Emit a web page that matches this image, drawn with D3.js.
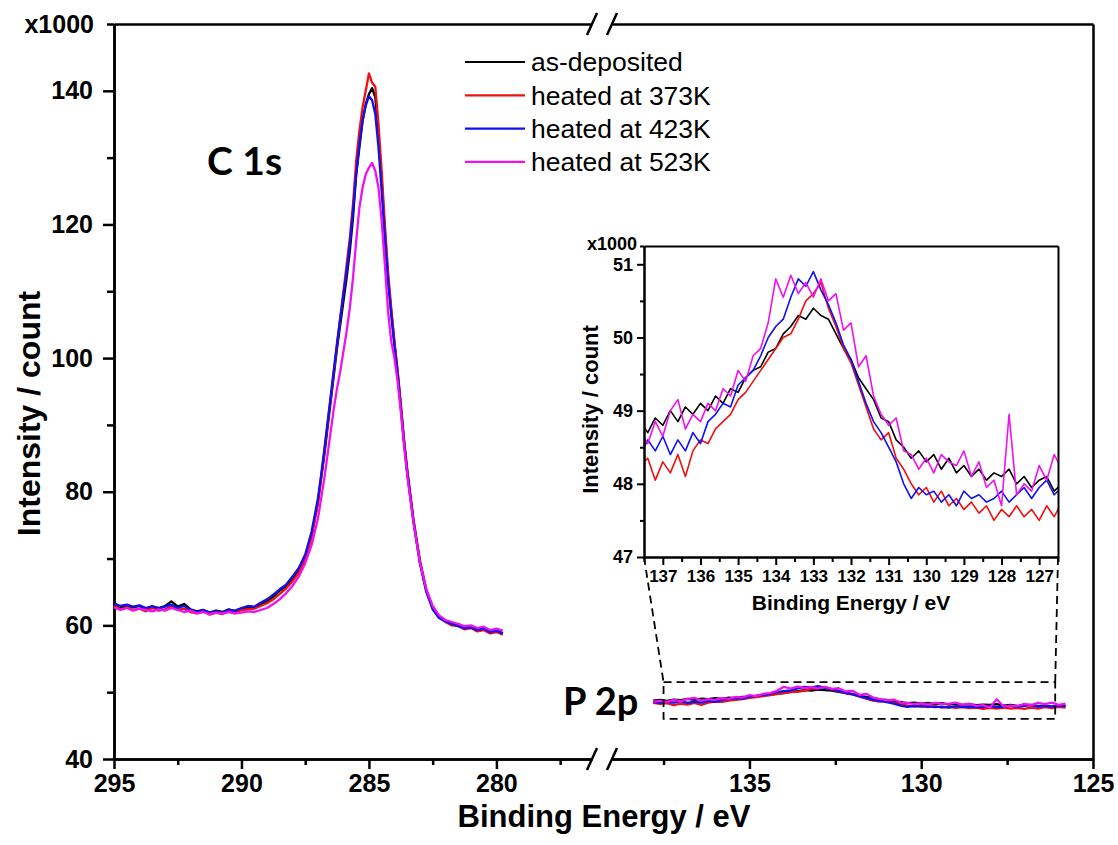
<!DOCTYPE html>
<html>
<head>
<meta charset="utf-8">
<script src="https://cdn.jsdelivr.net/npm/d3@7"></script>
<style>
    body { margin: 0; background: #fff; }
    svg text { font-family: "Liberation Sans", Arial, sans-serif; fill: #000; }
</style>
</head>
<body>
<svg id="chart" width="1118" height="845"></svg>
<script>
// legend / series
const seriesNames = ['as-deposited', 'heated at 373K', 'heated at 423K', 'heated at 523K']
const seriesColours = ['#000000', '#f01010', '#1010f0', '#f010f0']

// C 1s region (x1000 counts)
const energyC = [
    295.0, 294.75, 294.5, 294.25, 294.0, 293.75, 293.5, 293.25, 293.0, 292.75, 292.5,
    292.25, 292.0, 291.75, 291.5, 291.25, 291.0, 290.75, 290.5, 290.25, 290.0, 289.75,
    289.5, 289.25, 289.0, 288.75, 288.5, 288.25, 288.0, 287.75, 287.5, 287.25, 287.0,
    286.875, 286.75, 286.625, 286.5, 286.375, 286.25, 286.125, 286.0, 285.875, 285.75,
    285.625, 285.5, 285.375, 285.25, 285.125, 285.0, 284.875, 284.75, 284.625, 284.5,
    284.375, 284.25, 284.125, 284.0, 283.875, 283.75, 283.625, 283.5,
    283.25, 283.0, 282.75, 282.5, 282.25, 282.0, 281.75, 281.5, 281.25, 281.0, 280.75,
    280.5, 280.25, 280.0, 279.75]
const c1sAsDep = [
    63.1, 62.6, 63.0, 62.7, 62.9, 62.5, 62.8, 62.6, 62.9, 63.6, 62.8, 63.2, 62.4, 62.1, 62.3,
    61.9, 62.2, 62.0, 62.4, 62.1, 62.5, 62.7, 62.6, 63.2, 63.6, 64.3, 65.2, 65.8, 67.0, 68.2,
    70.0, 73.5, 78.5,
    82, 85.5, 89.5, 93.5, 97.5, 101.5, 105, 108.5, 112, 116, 121, 127.5, 131.5, 135.5, 138,
    139.5, 140.4, 139.0, 133.5, 126.5, 119, 112, 107, 102.3, 98, 93, 87.5, 83,
    75.5, 69.5, 65.2, 62.6, 61.3, 60.7, 60.3, 60.2, 59.7, 59.9, 59.4, 59.6, 59.1, 59.3, 58.8]
const c1s373 = [
    62.9, 62.4, 62.7, 62.3, 62.5, 62.1, 62.6, 62.2, 62.4, 62.8, 62.3, 62.5, 62.0, 61.8, 62.1,
    61.6, 61.9, 61.7, 62.1, 61.8, 62.3, 62.4, 62.5, 62.9, 63.3, 63.9, 64.7, 65.5, 66.6, 67.9,
    69.8, 73.2, 78.2,
    82, 86, 90, 94, 98, 102, 106, 110, 114, 118, 123, 129.5, 134, 137.5, 140,
    142.6, 141.2, 140.6, 135, 128, 120, 113, 107.5, 102.5, 98, 93, 88, 83.5,
    75.8, 69.8, 65.4, 62.7, 61.2, 60.5, 60.0, 59.9, 59.4, 59.6, 59.1, 59.3, 58.8, 59.0, 58.6]
const c1s423 = [
    63.3, 62.9, 63.1, 62.8, 63.0, 62.6, 62.9, 62.5, 62.8, 63.1, 62.6, 62.9, 62.3, 62.0, 62.3,
    61.9, 62.1, 61.9, 62.3, 62.2, 62.6, 62.9, 62.8, 63.4, 63.9, 64.6, 65.4, 66.1, 67.3, 68.6,
    70.6, 74.0, 79.0,
    82.5, 86.3, 90.3, 94.3, 98.3, 102.3, 106, 109.5, 113, 117, 122, 127.5, 132, 135.5, 137.8,
    139.2, 138.6, 136.5, 131.5, 125, 118, 111.5, 106.5, 101.8, 97.5, 92.5, 87.5, 83,
    75.5, 69.3, 65.0, 62.4, 61.1, 60.6, 60.2, 59.9, 59.6, 59.7, 59.3, 59.5, 59.0, 59.2, 58.8]
const c1s523 = [
    62.7, 62.3, 62.6, 62.2, 62.5, 62.3, 62.1, 62.4, 62.2, 62.6, 62.3, 62.0, 62.2, 61.8, 62.0,
    61.7, 61.9, 61.8, 62.0, 61.8, 61.9, 62.1, 62.0, 62.3, 62.6, 63.2, 63.9, 64.8, 65.9, 67.3,
    69.3, 72.0, 76.0,
    79, 82, 85.5, 89, 92.5, 95.5, 98, 101, 104, 107.5, 112, 117.5, 122.5, 125.5, 127.5,
    128.5, 129.2, 128, 125.5, 120.5, 114, 107, 102.5, 100, 96.5, 92, 87, 82.5,
    75.3, 69.4, 65.4, 62.9, 61.5, 60.8, 60.5, 60.2, 59.9, 60.0, 59.6, 59.8, 59.3, 59.5, 59.2]

// P 2p region (x1000 counts)
const energyP = [
    137.8, 137.6, 137.4, 137.2, 137.0, 136.8, 136.6, 136.4, 136.2, 136.0, 135.8, 135.6,
    135.4, 135.2, 135.0, 134.8, 134.6, 134.4, 134.2, 134.0, 133.8, 133.6, 133.4, 133.2,
    133.0, 132.8, 132.6, 132.4, 132.2, 132.0, 131.8, 131.6, 131.4, 131.2, 131.0, 130.8,
    130.6, 130.4, 130.2, 130.0, 129.8, 129.6, 129.4, 129.2, 129.0, 128.8, 128.6, 128.4,
    128.2, 128.0, 127.8, 127.6, 127.4, 127.2, 127.0, 126.8, 126.6, 126.4, 126.2, 126.0, 125.8]
const p2pAsDep = [
    48.75, 48.85, 48.70, 48.90, 48.80, 49.00, 48.85, 49.05, 48.95, 49.10, 49.00, 49.20,
    49.10, 49.30, 49.25, 49.45, 49.55, 49.60, 49.80, 49.85, 50.05, 50.15, 50.30, 50.25,
    50.40, 50.30, 50.25, 50.05, 49.85, 49.70, 49.45, 49.30, 49.15, 48.90, 48.85, 48.60,
    48.50, 48.35, 48.45, 48.30, 48.40, 48.20, 48.35, 48.15, 48.25, 48.10, 48.20, 48.05,
    48.15, 48.10, 48.20, 48.00, 48.10, 47.95, 48.05, 48.10, 47.90, 48.00, 47.85, 47.95, 47.90]
const p2p373 = [
    48.40, 48.25, 48.35, 48.05, 48.30, 48.15, 48.40, 48.10, 48.45, 48.60, 48.55, 48.75,
    48.85, 48.95, 49.15, 49.25, 49.40, 49.55, 49.70, 49.85, 50.00, 50.05, 50.25, 50.50,
    50.60, 50.75, 50.40, 50.15, 49.85, 49.65, 49.35, 49.05, 48.75, 48.60, 48.70, 48.35,
    48.20, 48.00, 47.85, 47.95, 47.75, 47.90, 47.70, 47.80, 47.65, 47.75, 47.60, 47.70,
    47.50, 47.65, 47.55, 47.70, 47.55, 47.65, 47.50, 47.70, 47.55, 47.75, 47.60, 47.80, 47.70]
const p2p423 = [
    48.55, 48.40, 48.60, 48.45, 48.65, 48.40, 48.60, 48.45, 48.70, 48.55, 48.85, 48.95,
    49.10, 49.05, 49.35, 49.45, 49.55, 49.75, 50.00, 50.15, 50.25, 50.55, 50.80, 50.70,
    50.90, 50.65, 50.45, 50.20, 49.90, 49.70, 49.40, 49.10, 48.85, 48.70, 48.50, 48.30,
    48.00, 47.80, 47.95, 47.85, 47.90, 47.75, 47.85, 47.70, 47.90, 47.80, 47.85, 47.75,
    47.80, 47.90, 47.75, 47.85, 47.95, 47.80, 47.95, 48.05, 47.85, 47.95, 47.85, 48.00, 47.90]
const p2p523 = [
    48.60, 48.70, 48.55, 48.85, 48.65, 49.00, 49.15, 48.75, 48.95, 48.85, 49.10, 49.00,
    49.30, 49.20, 49.55, 49.40, 49.75, 49.85, 50.20, 50.80, 50.55, 50.85, 50.60, 50.75,
    50.55, 50.80, 50.50, 50.60, 50.10, 50.20, 49.60, 49.75, 49.20, 48.95, 48.80, 48.90,
    48.45, 48.40, 48.20, 48.35, 48.15, 48.40, 48.30, 48.25, 48.45, 48.10, 48.30, 47.95,
    48.05, 47.70, 48.95, 47.85, 48.00, 47.90, 48.25, 48.05, 48.40, 48.20, 48.45, 48.10, 48.30]

// ticks
const xMajorL = [295, 290, 285, 280]
const xMinorL = [292.5, 287.5, 282.5, 277.5]
const xMajorR = [135, 130, 125]
const xMinorR = [137.5, 132.5, 127.5]
const yMajor = [40, 60, 80, 100, 120, 140]
const yMinor = [50, 70, 90, 110, 130, 150]
const insetXMajor = [137, 136, 135, 134, 133, 132, 131, 130, 129, 128, 127]
const insetXMinor = [137.5, 136.5, 135.5, 134.5, 133.5, 132.5, 131.5, 130.5, 129.5, 128.5, 127.5, 126.5]
const insetYMajor = [47, 48, 49, 50, 51]
const insetYMinor = [47.5, 48.5, 49.5, 50.5, 51.25]
// zoom box around P 2p (data coords)
const zoomBox = {x0: 137.5, x1: 126.1, y0: 46.0, y1: 51.5}

const c1sSeries = [c1sAsDep, c1s373, c1s423, c1s523]
const p2pSeries = [p2pAsDep, p2p373, p2p423, p2p523]

const svg = d3.select('#chart')

// main scales: broken x axis
const xL = d3.scaleLinear().domain([295, 276.25]).range([114, 592])
const xR = d3.scaleLinear().domain([139, 125]).range([612, 1093])
const y = d3.scaleLinear().domain([40, 150]).range([759, 24])

function styleAxis(g, fontSize, width) {
    g.attr('font-family', null).attr('font-size', null)
    g.selectAll('path.domain').attr('stroke-width', width)
    g.selectAll('.tick line').attr('stroke-width', width)
    g.selectAll('.tick text')
        .style('font-size', fontSize + 'px')
        .style('font-weight', 'bold')
}

const yBot = y.range()[0], yTop = y.range()[1]
const xLeft = xL.range()[0], xRight = xR.range()[1]

// bottom axis (two pieces)
;[[xL, xMajorL, xMinorL], [xR, xMajorR, xMinorR]].forEach(([sc, maj, mnr]) => {
    svg.append('g').attr('transform', `translate(0,${yBot})`)
        .call(d3.axisBottom(sc).tickValues(mnr).tickSize(6).tickSizeOuter(0).tickFormat(''))
        .call(g => styleAxis(g, 25, 2.5))
    svg.append('g').attr('transform', `translate(0,${yBot})`)
        .call(d3.axisBottom(sc).tickValues(maj).tickSize(10).tickSizeOuter(0).tickPadding(5).tickFormat(d3.format('d')))
        .call(g => styleAxis(g, 25, 2.5))
    svg.append('g').attr('transform', `translate(0,${yTop})`)
        .call(d3.axisTop(sc).tickValues([]).tickSizeOuter(0))
        .call(g => styleAxis(g, 25, 2.5))
})

svg.append('g').attr('transform', `translate(${xLeft},0)`)
    .call(d3.axisLeft(y).tickValues(yMinor).tickSize(7).tickSizeOuter(0).tickFormat(''))
    .call(g => styleAxis(g, 25, 2.5))
svg.append('g').attr('transform', `translate(${xLeft},0)`)
    .call(d3.axisLeft(y).tickValues(yMajor).tickSize(11).tickSizeOuter(0).tickPadding(10).tickFormat(d3.format('d')))
    .call(g => styleAxis(g, 25, 2.5))
svg.append('g').attr('transform', `translate(${xRight},0)`)
    .call(d3.axisRight(y).tickValues([]).tickSizeOuter(0))
    .call(g => styleAxis(g, 25, 2.5))

// break marks
const breakX = [xL.range()[1], xR.range()[0]]
;[yTop, yBot].forEach(yy => {
    breakX.forEach(bx => {
        svg.append('line')
            .attr('x1', bx - 5).attr('y1', yy + 11)
            .attr('x2', bx + 5).attr('y2', yy - 11)
            .attr('stroke', '#000').attr('stroke-width', 2.5)
    })
})

svg.append('text').attr('x', 94).attr('y', yTop).attr('dy', '0.35em')
    .attr('text-anchor', 'end').style('font-size', '25px').style('font-weight', 'bold')
    .text('x1000')

svg.append('text')
    .attr('transform', `translate(29,${(yTop + yBot) / 2 + 22}) rotate(-90)`)
    .attr('text-anchor', 'middle').attr('dy', '0.35em')
    .style('font-size', '32px').style('font-weight', 'bold')
    .text('Intensity / count')
svg.append('text')
    .attr('x', 604).attr('y', 827).attr('text-anchor', 'middle')
    .style('font-size', '31px').style('font-weight', 'bold')
    .text('Binding Energy / eV')

// data lines
const lineL = d3.line().x(d => xL(d[0])).y(d => y(d[1]))
const lineR = d3.line().x(d => xR(d[0])).y(d => y(d[1]))

c1sSeries.forEach((vals, i) => {
    svg.append('path')
        .datum(energyC.map((e, k) => [e, vals[k]]))
        .attr('d', lineL)
        .attr('fill', 'none').attr('stroke', seriesColours[i]).attr('stroke-width', 2.3)
        .attr('stroke-linejoin', 'round')
})
p2pSeries.forEach((vals, i) => {
    svg.append('path')
        .datum(energyP.map((e, k) => [e, vals[k]]))
        .attr('d', lineR)
        .attr('fill', 'none').attr('stroke', seriesColours[i]).attr('stroke-width', 2.3)
        .attr('stroke-linejoin', 'round')
})

svg.append('text').attr('x', 207).attr('y', 175)
    .style('font-family', 'Lato, "Open Sans", sans-serif').style('font-weight', 'bold').style('font-size', '39px')
    .text('C 1s')
svg.append('text').attr('x', 563).attr('y', 715)
    .style('font-family', 'Lato, "Open Sans", sans-serif').style('font-weight', 'bold').style('font-size', '38px')
    .text('P 2p')

// legend
const legend = svg.append('g')
seriesNames.forEach((name, i) => {
    const ly = 62 + i * 33.3
    legend.append('line').attr('x1', 465).attr('x2', 525).attr('y1', ly).attr('y2', ly)
        .attr('stroke', seriesColours[i]).attr('stroke-width', 2.2)
    legend.append('text').attr('x', 531).attr('y', ly).attr('dy', '0.35em')
        .style('font-size', '26.5px').text(name)
})

// inset
const xi = d3.scaleLinear().domain([137.5, 126.5]).range([644, 1058])
const yi = d3.scaleLinear().domain([47, 51.25]).range([557, 246])
const iL = xi.range()[0], iR = xi.range()[1], iB = yi.range()[0], iT = yi.range()[1]

// zoom box and connectors
const dash = '8,5'
svg.append('rect')
    .attr('x', xR(zoomBox.x0)).attr('y', y(zoomBox.y1))
    .attr('width', xR(zoomBox.x1) - xR(zoomBox.x0))
    .attr('height', y(zoomBox.y0) - y(zoomBox.y1))
    .attr('fill', 'none').attr('stroke', '#000').attr('stroke-width', 1.8)
    .attr('stroke-dasharray', dash)
svg.append('line').attr('x1', iL).attr('y1', iB).attr('x2', xR(zoomBox.x0)).attr('y2', y(zoomBox.y1))
    .attr('stroke', '#000').attr('stroke-width', 1.8).attr('stroke-dasharray', dash)
svg.append('line').attr('x1', iR).attr('y1', iB).attr('x2', xR(zoomBox.x1)).attr('y2', y(zoomBox.y1))
    .attr('stroke', '#000').attr('stroke-width', 1.8).attr('stroke-dasharray', dash)

svg.append('rect').attr('x', iL).attr('y', iT).attr('width', iR - iL).attr('height', iB - iT)
    .attr('fill', '#fff')

svg.append('defs').append('clipPath').attr('id', 'inset-clip')
    .append('rect').attr('x', iL).attr('y', iT).attr('width', iR - iL).attr('height', iB - iT)

const lineI = d3.line().x(d => xi(d[0])).y(d => yi(d[1]))
const insetLines = svg.append('g').attr('clip-path', 'url(#inset-clip)')
p2pSeries.forEach((vals, i) => {
    insetLines.append('path')
        .datum(energyP.map((e, k) => [e, vals[k]]))
        .attr('d', lineI)
        .attr('fill', 'none').attr('stroke', seriesColours[i]).attr('stroke-width', 1.6)
        .attr('stroke-linejoin', 'round')
})

svg.append('g').attr('transform', `translate(0,${iB})`)
    .call(d3.axisBottom(xi).tickValues(insetXMinor).tickSize(5).tickSizeOuter(0).tickFormat(''))
    .call(g => styleAxis(g, 17, 2))
svg.append('g').attr('transform', `translate(0,${iB})`)
    .call(d3.axisBottom(xi).tickValues(insetXMajor).tickSize(8).tickSizeOuter(0).tickPadding(5).tickFormat(d3.format('d')))
    .call(g => styleAxis(g, 17, 2))
svg.append('g').attr('transform', `translate(0,${iT})`)
    .call(d3.axisTop(xi).tickValues([]).tickSizeOuter(0))
    .call(g => styleAxis(g, 17, 2))
svg.append('g').attr('transform', `translate(${iL},0)`)
    .call(d3.axisLeft(yi).tickValues(insetYMinor).tickSize(4).tickSizeOuter(0).tickFormat(''))
    .call(g => styleAxis(g, 17, 2))
svg.append('g').attr('transform', `translate(${iL},0)`)
    .call(d3.axisLeft(yi).tickValues(insetYMajor).tickSize(7).tickSizeOuter(0).tickPadding(4).tickFormat(d3.format('d')))
    .call(g => styleAxis(g, 18, 2))
svg.append('g').attr('transform', `translate(${iR},0)`)
    .call(d3.axisRight(yi).tickValues([]).tickSizeOuter(0))
    .call(g => styleAxis(g, 17, 2))

svg.append('text').attr('x', 637).attr('y', iT).attr('dy', '0.2em')
    .attr('text-anchor', 'end').style('font-size', '18px').style('font-weight', 'bold')
    .text('x1000')
svg.append('text')
    .attr('transform', `translate(590,${(iT + iB) / 2 + 8}) rotate(-90)`)
    .attr('text-anchor', 'middle').attr('dy', '0.35em')
    .style('font-size', '22px').style('font-weight', 'bold')
    .text('Intensity / count')
svg.append('text')
    .attr('x', (iL + iR) / 2).attr('y', 610).attr('text-anchor', 'middle')
    .style('font-size', '21px').style('font-weight', 'bold')
    .text('Binding Energy / eV')
</script>
</body>
</html>
